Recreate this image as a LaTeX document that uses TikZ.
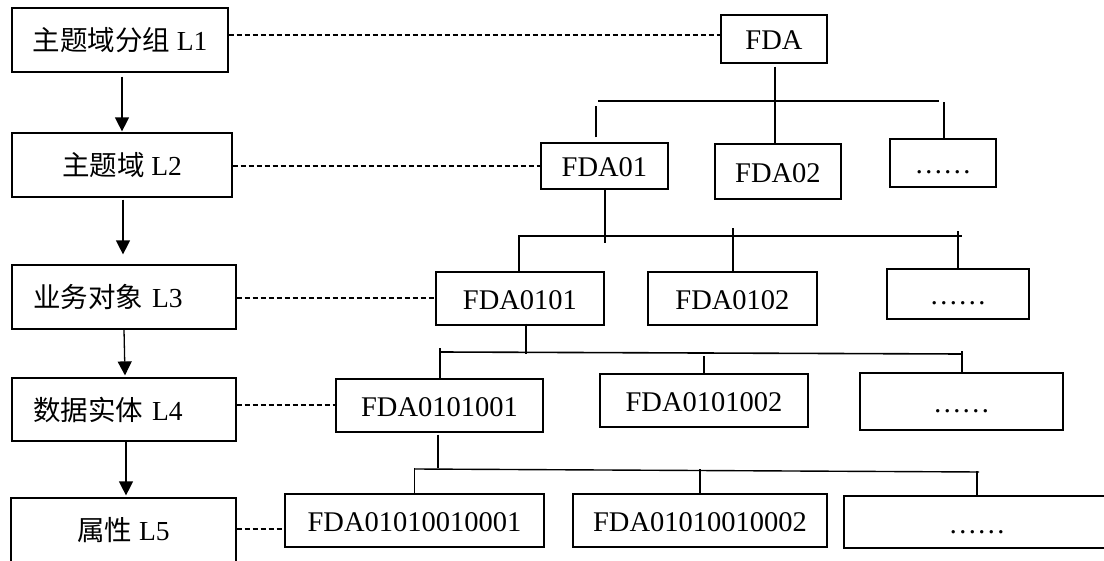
\documentclass[tikz,border=0pt]{standalone}
\usepackage{fontspec}
\setmainfont{Liberation Serif}
\newfontfamily\cjk{Noto Sans CJK SC}
\usetikzlibrary{arrows.meta,calc}
\begin{document}
\begin{tikzpicture}[x=1pt,y=-1pt,
  box/.style={draw, line width=1.2pt, inner sep=0pt, font=\fontsize{27.5}{30}\selectfont},
  leftbox/.style={box, text width=182pt, inner xsep=21pt, align=left},
  cbox/.style={box, text height=22pt, text depth=0pt, font=\fontsize{28.5}{30}\selectfont},
  dline/.style={line width=1.2pt, dash pattern=on 5pt off 3pt},
  tline/.style={line width=1.3pt},
  tthick/.style={line width=2pt},
  arr/.style={line width=1.3pt, -{Triangle[width=14pt,length=14pt]}}]
\useasboundingbox (0,0) rectangle (1104,561);

% left level boxes
\node[box, minimum width=216pt, minimum height=64pt] (L1) at (120,40) {{\cjk 主题域分组} L1};
\node[box, minimum width=220pt, minimum height=64pt] (L2) at (122,165) {{\cjk 主题域} L2};
\node[leftbox, minimum height=64pt] (L3) at (124,297) {{\cjk 业务对象} L3};
\node[leftbox, minimum height=63pt] (L4) at (124,409.5) {{\cjk 数据实体} L4};
\node[box, minimum width=225pt, minimum height=68pt] (L5) at (123.5,532) {\raisebox{6pt}{{\cjk 属性} L5}};

% tree boxes
\node[cbox, minimum width=106pt, minimum height=48pt] (FDA) at (774,39) {FDA};
\node[cbox, minimum width=127pt, minimum height=46pt] (FDA01) at (604.5,166) {FDA01};
\node[cbox, minimum width=126pt, minimum height=55pt] (FDA02) at (778,171.5) {FDA02};
\node[cbox, minimum width=106pt, minimum height=48pt] (D2) at (943,163) {……};
\node[cbox, minimum width=168pt, minimum height=53pt] (FDA0101) at (520,298.5) {FDA0101};
\node[cbox, minimum width=169pt, minimum height=53pt] (FDA0102) at (732.5,298.5) {FDA0102};
\node[cbox, minimum width=142pt, minimum height=50pt] (D3) at (958,294) {……};
\node[cbox, minimum width=207pt, minimum height=53pt] (E1) at (439.5,405.5) {FDA0101001};
\node[cbox, minimum width=208pt, minimum height=53pt] (E2) at (704,400.5) {FDA0101002};
\node[cbox, minimum width=203pt, minimum height=57pt] (D4) at (961.5,401.5) {……};
\node[cbox, minimum width=259pt, minimum height=53pt] (A1) at (414.5,520.5) {FDA01010010001};
\node[cbox, minimum width=254pt, minimum height=53pt] (A2) at (700,520.5) {FDA01010010002};
\node[cbox, minimum width=266pt, minimum height=52pt] (D5) at (977,522) {……};

% arrows between levels
\draw[arr] (L1.south -| L2.north) ++(0,4) -- ([yshift=1pt]L2.north);
\draw[arr] ($(L2.south)+(1,2)$) -- ($(L3.north)+(-1,-10)$);
\draw[arr] (L3.south) -- ($(L4.north)+(1,-2)$);
\draw[arr] ($(L4.south)+(2,0)$) -- ($(L5.north)+(2.5,-2)$);

% dashed level links
\coordinate (p1) at ($(L1.east)+(0,-5)$);
\draw[dline] (p1) -- (p1 -| FDA.west);
\coordinate (p2) at ($(L2.east)+(0,1)$);
\draw[dline] (p2) -- (p2 -| FDA01.west);
\coordinate (p3) at ($(L3.east)+(0,1)$);
\draw[dline] (p3) -- (p3 -| FDA0101.west);
\coordinate (p4) at ($(L4.east)+(0,-4.5)$);
\draw[dline] (p4) -- (p4 -| E1.west);
\coordinate (p5) at ($(L5.east)+(0,-3)$);
\draw[dline] (p5) -- (p5 -| A1.west);

% tree level 1 -> 2
\draw[tline] ($(FDA.south)+(1,3)$) -- ($(FDA02.north)+(-3,0)$);
\coordinate (b1a) at (598,101);
\coordinate (b1b) at (939,101);
\draw[tthick] (b1a) -- (b1b);
\draw[tthick] ($(FDA01.north)+(-8.5,-5)$) -- ++(0,-31);
\draw[tline] ($(D2.north)+(1,0)$) -- ++(0,-36);

% tree level 2 -> 3
\draw[tthick] (FDA01.south) -- ++(0,53);
\coordinate (b2a) at (518,236);
\coordinate (b2b) at (962,236);
\draw[tthick] (b2a) -- (b2b);
\draw[tline] ($(FDA0101.north)+(-1,0)$) -- ++(0,-36);
\draw[tthick] (FDA0102.north) -- ++(0,-43);
\draw[tline] (D3.north) -- ++(0,-37);

% tree level 3 -> 4
\draw[tthick] ($(FDA0101.south)+(6,-2)$) -- ++(0,30);
\coordinate (b3a) at (440,352);
\coordinate (b3b) at (961,354);
\draw[line width=1.6pt] (b3a) -- (b3b);
\draw[tthick] (E1.north) -- ++(0,-30);
\draw[tthick] (E2.north) -- ++(0,-17);
\draw[tthick] (D4.north) -- ++(0,-21);

% tree level 4 -> 5
\draw[line width=1.6pt] ($(E1.south)+(-1.5,2)$) -- ++(0,33);
\coordinate (b4a) at (415,469);
\coordinate (b4b) at (979,472);
\draw[line width=1.4pt] (b4a) -- (b4b);
\draw[tline] (A1.north) -- ++(0,-25);
\draw[tline] (A2.north) -- ++(0,-24);
\draw[tline] (D5.north) -- ++(0,-24);
\end{tikzpicture}
\end{document}
